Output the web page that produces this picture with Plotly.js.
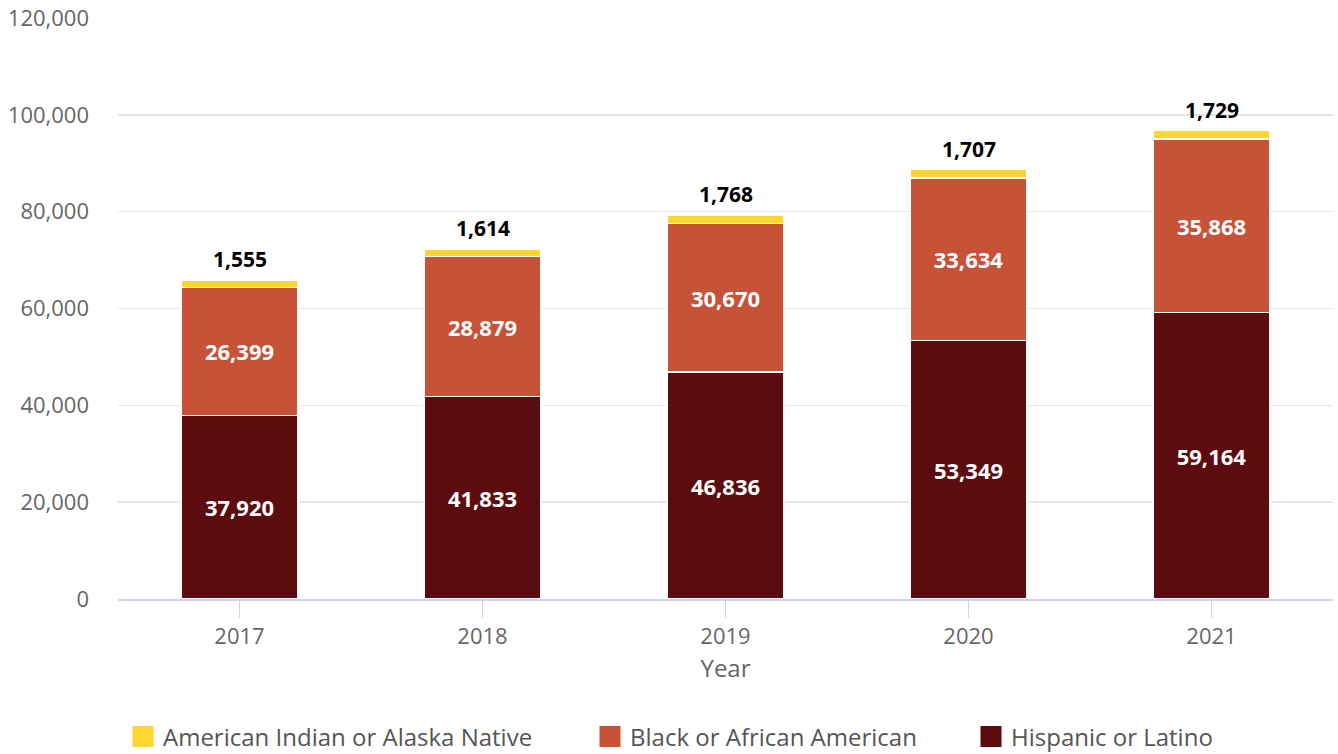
<!DOCTYPE html>
<html><head><meta charset="utf-8">
<script src="https://cdn.plot.ly/plotly-3.0.1.min.js"></script>
<style>html,body{margin:0;padding:0;background:#fff;}</style>
</head><body><div id="chart"></div>
<script>
const years = ['2017','2018','2019','2020','2021'];
const hispanic = [37920, 41833, 46836, 53349, 59164];
const black = [26399, 28879, 30670, 33634, 35868];
const amIndian = [1555, 1614, 1768, 1707, 1729];
const yTicks = [0, 20000, 40000, 60000, 80000, 100000, 120000];
const seriesNames = ['Hispanic or Latino', 'Black or African American', 'American Indian or Alaska Native'];
const seriesColors = ['#5c0b0e', '#c75238', '#fed62f'];

const FONT = 'Open Sans, sans-serif';
function fmt(v) { return v.toLocaleString('en-US'); }
function mk(i, y, pos) {
  return {
    type: 'bar', name: seriesNames[i], x: years, y: y, showlegend: false,
    marker: {color: seriesColors[i], line: {color: '#ffffff', width: 1.5}},
    text: y.map(v => '<b>' + fmt(v) + '</b>'),
    textposition: pos, insidetextanchor: 'middle',
    textfont: {family: FONT, size: 22, color: '#ffffff'},
    hoverinfo: 'skip'
  };
}
const traces = [mk(0, hispanic, 'inside'), mk(1, black, 'inside'), mk(2, amIndian, 'none')];
// legend-only entries (three legends laid out like the reference)
const legendIds = ['legend3', 'legend2', 'legend'];
for (let i = 0; i < 3; i++) {
  traces.push({type: 'scatter', mode: 'markers', x: [null], y: [null], name: seriesNames[i],
    legend: legendIds[i], showlegend: true, hoverinfo: 'skip',
    marker: {symbol: 'square', size: 22, color: seriesColors[i], line: {color: seriesColors[i], width: 5}}});
}

const annotations = years.map((yr, i) => ({
  x: i, y: hispanic[i] + black[i] + amIndian[i],
  text: '<b>' + fmt(amIndian[i]) + '</b>',
  showarrow: false, yanchor: 'bottom', yshift: 5,
  font: {family: FONT, size: 21, color: '#000000'}
}));

function leg(xpx) {
  return {orientation: 'h', xref: 'container', yref: 'container', x: xpx / 1338, xanchor: 'left',
    y: 17 / 754, yanchor: 'middle', itemsizing: 'trace',
    font: {family: FONT, size: 24, color: '#555555'}, bgcolor: 'rgba(0,0,0,0)'};
}

const layout = {
  width: 1338, height: 754,
  margin: {l: 118, r: 5, t: 18, b: 155},
  paper_bgcolor: '#fff', plot_bgcolor: '#fff',
  barmode: 'stack', bargap: 0.52,
  font: {family: FONT, color: '#666666'},
  showlegend: true,
  legend: leg(123), legend2: leg(590), legend3: leg(971),
  xaxis: {
    type: 'category', range: [-0.5, 4.5], fixedrange: true,
    showgrid: false, showline: true, linecolor: '#ccd6eb', linewidth: 1.5,
    ticks: 'outside', ticklen: 17, tickcolor: '#ccd6eb', tickwidth: 1.5,
    tickfont: {family: FONT, size: 22, color: '#666666'},
    title: {text: 'Year', font: {family: FONT, size: 24, color: '#666666'}, standoff: 11}
  },
  yaxis: {
    range: [0, 120000], tickvals: yTicks, ticktext: yTicks.map(fmt),
    showgrid: true, gridcolor: '#e6e6e6', gridwidth: 1.5, zeroline: false, showline: false,
    tickfont: {family: FONT, size: 22, color: '#666666'}, ticklabelstandoff: 28
  },
  annotations: annotations
};
Plotly.newPlot('chart', traces, layout, {displayModeBar: false, staticPlot: true});
</script></body></html>
